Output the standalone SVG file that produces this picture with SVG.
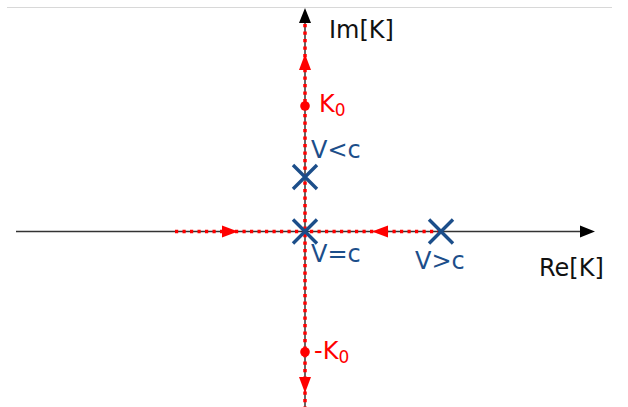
<svg xmlns="http://www.w3.org/2000/svg" width="628" height="407" viewBox="0 0 628 407">
<defs>
<style>
.axis{stroke:#333;stroke-width:1.5;fill:none}
.path{stroke:#ff0000;stroke-width:3.5;stroke-dasharray:3.2 4.3;fill:none}
.cross{stroke:#1c4e8a;stroke-width:3.4;stroke-linecap:butt}
.lbl{font-family:"DejaVu Sans",sans-serif;font-size:24px}
.blue{fill:#1c4e8a}
.red{fill:#ff0000}
.black{fill:#111}
</style>
</defs>
<line x1="7" y1="7.5" x2="612" y2="7.5" stroke="#d8d8d8" stroke-width="1.2"/>
<g id="connectors">
<line class="axis" x1="16" y1="231.5" x2="582" y2="231.5"/>
<polygon points="595,231.5 580,225.5 580,237.5" fill="#000"/>
<line class="axis" x1="305" y1="407" x2="305" y2="22"/>
<polygon points="305,8 299,23 311,23" fill="#000"/>
<line class="path" x1="305" y1="24" x2="305" y2="407"/>
<line class="path" x1="175" y1="231.5" x2="438" y2="231.5"/>
<polygon points="305,54 299,70 311,70" fill="#ff0000"/>
<polygon points="305,393 299,377 311,377" fill="#ff0000"/>
<polygon points="238,231.5 222,225.5 222,237.5" fill="#ff0000"/>
<polygon points="372,231.5 388,225.5 388,237.5" fill="#ff0000"/>
</g>
<g id="K0"><circle cx="305" cy="106" r="4.8" fill="#ff0000"/><text class="lbl red" x="319" y="112">K<tspan font-size="17" dy="4">0</tspan></text></g>
<g id="minusK0"><circle cx="305" cy="352" r="4.8" fill="#ff0000"/><text class="lbl red" x="314" y="359">-K<tspan font-size="17" dy="4">0</tspan></text></g>
<g id="Vlc"><path class="cross" d="M293,165L317,189M317,165L293,189"/><text class="lbl blue" x="311" y="158">V&lt;c</text></g>
<g id="Veqc"><path class="cross" d="M293,219.5L317,243.5M317,219.5L293,243.5"/><text class="lbl blue" x="311" y="262">V=c</text></g>
<g id="Vgc"><path class="cross" d="M429,219.5L453,243.5M453,219.5L429,243.5"/><text class="lbl blue" x="415" y="269">V&gt;c</text></g>
<g id="ImK"><text class="lbl black" x="329" y="38">Im[K]</text></g>
<g id="ReK"><text class="lbl black" x="539" y="276">Re[K]</text></g>
</svg>
